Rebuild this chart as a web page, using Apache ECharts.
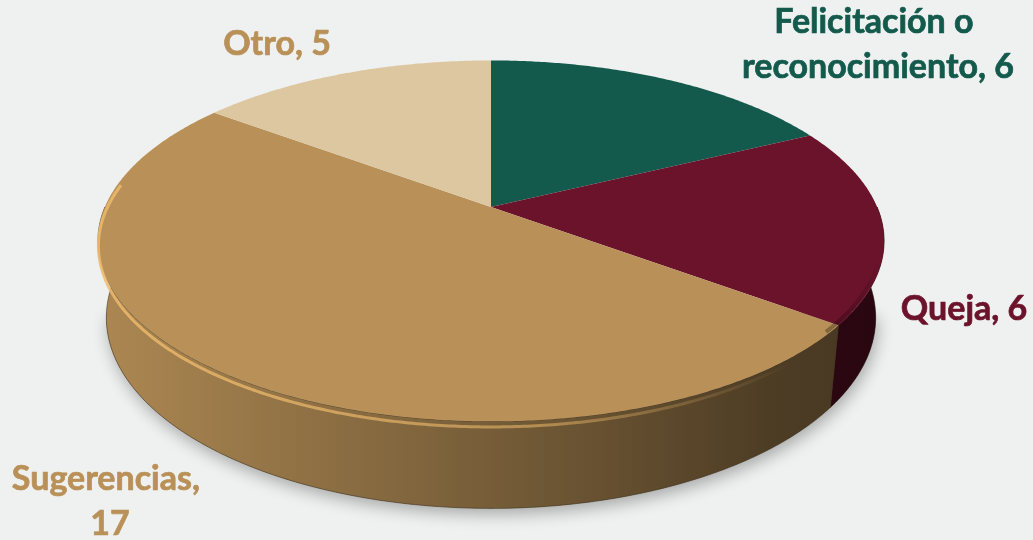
<!DOCTYPE html>
<html>
<head>
<meta charset="utf-8">
<script src="https://cdn.jsdelivr.net/npm/echarts@6/dist/echarts.min.js"></script>
<style>
  html, body { margin: 0; padding: 0; background: #eff1f0; }
  #chart { width: 1033px; height: 540px; }
</style>
</head>
<body>
<div id="chart"></div>
<script>
// Data
const categories = ['Felicitación o reconocimiento', 'Queja', 'Sugerencias', 'Otro'];
const values = [6, 6, 17, 5];

// Styling
const sliceColors = ['#135a4c', '#6b132b', '#b99158', '#dcc7a0'];
const labelColors = ['#135a4c', '#6b132b', '#b99158', '#b99158'];
const labelBoxes = [
  { x: 878, y: 45, w: 310 },
  { x: 964, y: 309, w: 200 },
  { x: 110, y: 502, w: 200 },
  { x: 277, y: 44, w: 200 }
];

// Perspective view of a flat disc (unit radius, thickness h)
const view = { cx: 491, cy: 207, F: 1834, D: 4.75, tilt: 26.8 * Math.PI / 180, h: 0.2236 };

function project(theta, y, r) {
  r = r === undefined ? 1 : r;
  const x = r * Math.sin(theta), z = r * Math.cos(theta);
  const c = Math.cos(view.tilt), s = Math.sin(view.tilt);
  const yc = y * c + z * s;
  const depth = view.D + z * c - y * s;
  return [view.cx + view.F * x / depth, view.cy - view.F * yc / depth];
}

function shade(hex, f) {
  const n = parseInt(hex.slice(1), 16);
  const ch = [(n >> 16) & 255, (n >> 8) & 255, n & 255].map(v => Math.max(0, Math.min(255, Math.round(v * f))));
  return 'rgb(' + ch.join(',') + ')';
}

function arc(t0, t1, y, r) {
  const pts = [];
  const steps = Math.max(2, Math.ceil((t1 - t0) / (Math.PI / 360)));
  for (let k = 0; k <= steps; k++) pts.push(project(t0 + (t1 - t0) * k / steps, y, r));
  return pts;
}

const total = values.reduce((a, b) => a + b, 0);
const starts = [];
values.reduce((acc, v, i) => { starts[i] = acc; return acc + v; }, 0);

function renderItem(params, api) {
  const i = params.dataIndex;
  const v = api.value(0);
  const t0 = starts[i] / total * Math.PI * 2;
  const t1 = (starts[i] + v) / total * Math.PI * 2;
  const col = sliceColors[i];
  const children = [];

  // soft cast shadow under the front of the disc
  if (i === 0) {
    children.push({
      type: 'polygon', z2: 0,
      shape: { points: arc(Math.PI * 0.55, Math.PI * 1.45, -view.h) },
      style: { fill: '#8a8c8b', shadowBlur: 16, shadowColor: 'rgba(0,0,0,0.30)', shadowOffsetX: 2, shadowOffsetY: 6 }
    });
  }

  // outer wall (front half only; the back is hidden by the top face)
  const w0 = Math.max(t0, Math.PI * 0.5), w1 = Math.min(t1, Math.PI * 1.5);
  if (w1 > w0) {
    const wallPts = arc(w0, w1, 0).concat(arc(w0, w1, -view.h).reverse());
    children.push({
      type: 'polygon', z2: 1,
      shape: { points: wallPts },
      style: {
        fill: new echarts.graphic.LinearGradient(100, 0, 885, 0, [
          { offset: 0, color: shade(col, 0.93) },
          { offset: 0.5, color: shade(col, 0.64) },
          { offset: 0.85, color: shade(col, 0.42) },
          { offset: 1, color: shade(col, 0.38) }
        ], true),
        stroke: shade(col, 0.35), lineWidth: 0.6
      }
    });
  }

  // top face
  const topPts = [[view.cx, view.cy]].concat(arc(t0, t1, 0));
  children.push({
    type: 'polygon', z2: 2,
    shape: { points: topPts },
    style: { fill: col }
  });

  // rounded bevel: light on the front-left rim, shaded on the right
  const a0 = Math.max(t0, Math.PI * 0.5), a1 = Math.min(t1, Math.PI * 1.55);
  if (a1 > a0) {
    children.push({
      type: 'polyline', z2: 3,
      shape: { points: arc(a0, a1, -0.014) },
      style: {
        fill: null, lineWidth: 3,
        stroke: new echarts.graphic.LinearGradient(100, 0, 885, 0, [
          { offset: 0, color: 'rgba(238,186,108,0.85)' },
          { offset: 0.55, color: 'rgba(238,186,108,0.55)' },
          { offset: 0.88, color: 'rgba(238,186,108,0.0)' },
          { offset: 1, color: 'rgba(238,186,108,0.0)' }
        ], true)
      }
    });
  }
  const d0 = Math.max(t0, Math.PI * 0.55), d1 = Math.min(t1, Math.PI * 0.72);
  if (d1 > d0) {
    children.push({
      type: 'polyline', z2: 3,
      shape: { points: arc(d0, d1, 0, 0.992) },
      style: {
        fill: null, lineWidth: 4,
        stroke: new echarts.graphic.LinearGradient(0, 260, 0, 330, [
          { offset: 0, color: 'rgba(0,0,0,0)' },
          { offset: 1, color: 'rgba(0,0,0,0.3)' }
        ], true)
      }
    });
  }

  // label
  const box = labelBoxes[i];
  children.push({
    type: 'text', z2: 5,
    style: {
      x: box.x, y: box.y,
      text: categories[i] + ', ' + v,
      width: box.w, overflow: 'break',
      align: 'center', verticalAlign: 'middle',
      fill: labelColors[i],
      stroke: labelColors[i], lineWidth: 0.7,
      font: 'bold 34px Lato, "Open Sans", sans-serif',
      lineHeight: 45
    }
  });

  return { type: 'group', children };
}

const chart = echarts.init(document.getElementById('chart'), null, { renderer: 'canvas' });
chart.setOption({
  backgroundColor: '#eff1f0',
  animation: false,
  series: [{
    type: 'custom',
    coordinateSystem: 'none',
    renderItem,
    data: values.map((v, i) => ({ name: categories[i], value: [v] }))
  }]
});
</script>
</body>
</html>
